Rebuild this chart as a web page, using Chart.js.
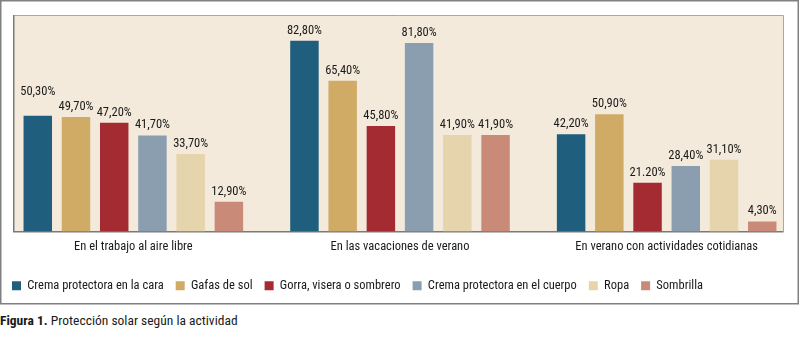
<!DOCTYPE html>
<html>
<head>
<meta charset="utf-8">
<script src="https://cdn.jsdelivr.net/npm/chart.js@4"></script>
<style>
  body { margin: 0; background: #fff; }
  #wrap { position: relative; width: 800px; height: 339px; }
  #chart { position: absolute; left: 0; top: 0; }
  #caption {
    position: absolute; left: 0; top: 312px;
    font-family: "Roboto Condensed", sans-serif;
    font-size: 13.5px; color: #1a1a1a;
  }
  #caption b { font-weight: bold; }
</style>
</head>
<body>
<div id="wrap">
  <canvas id="chart" width="800" height="305"></canvas>
  <div id="caption"><b>Figura 1.</b> Protección solar según la actividad</div>
</div>
<script>
const FONT = '"Roboto Condensed", sans-serif';

const categories = ['En el trabajo al aire libre', 'En las vacaciones de verano', 'En verano con actividades cotidianas'];
const seriesNames = ['Crema protectora en la cara', 'Gafas de sol', 'Gorra, visera o sombrero', 'Crema protectora en el cuerpo', 'Ropa', 'Sombrilla'];
const cremaCara = [50.3, 82.8, 42.2];
const gafas = [49.7, 65.4, 50.9];
const gorra = [47.2, 45.8, 21.2];
const cremaCuerpo = [41.7, 81.8, 28.4];
const ropa = [33.7, 41.9, 31.1];
const sombrilla = [12.9, 41.9, 4.3];
const colors = ['#1f5f7d', '#cfab66', '#a52b33', '#8a9eb0', '#e6d4ac', '#c98b78'];

const values = [cremaCara, gafas, gorra, cremaCuerpo, ropa, sombrilla];

// the original has one label written with a point
function labelFor(s, i) {
  if (s === 2 && i === 2) return '21.20%';
  return values[s][i].toFixed(2).replace('.', ',') + '%';
}

const frame = {
  id: 'frame',
  beforeDraw(chart) {
    const ctx = chart.ctx;
    const a = chart.chartArea;
    ctx.save();
    ctx.fillStyle = '#fff';
    ctx.fillRect(0, 0, chart.width, chart.height);
    ctx.strokeStyle = '#808080';
    ctx.lineWidth = 1.5;
    ctx.strokeRect(0.75, 0.75, 797.5, 303);
    ctx.fillStyle = '#f4eadb';
    ctx.fillRect(13, a.top, 770, a.bottom - a.top);
    ctx.lineWidth = 1;
    ctx.strokeStyle = '#a8a8a8';
    ctx.beginPath();
    ctx.moveTo(13.5, a.top + 0.5); ctx.lineTo(783.5, a.top + 0.5); ctx.lineTo(783.5, a.bottom);
    ctx.stroke();
    ctx.lineWidth = 1.5;
    ctx.strokeStyle = '#7a7a7a';
    ctx.beginPath();
    ctx.moveTo(13.75, a.top); ctx.lineTo(13.75, a.bottom + 0.25); ctx.lineTo(783.5, a.bottom + 0.25);
    ctx.stroke();
    ctx.restore();
  }
};

const valueLabels = {
  id: 'valueLabels',
  afterDatasetsDraw(chart) {
    const ctx = chart.ctx;
    ctx.save();
    ctx.font = '12.5px ' + FONT;
    ctx.fillStyle = '#1a1a1a';
    ctx.textAlign = 'center';
    ctx.textBaseline = 'bottom';
    chart.data.datasets.forEach((ds, s) => {
      chart.getDatasetMeta(s).data.forEach((bar, i) => {
        const lift = (s === 0 && i === 0) ? 18 : 4;
        ctx.fillText(labelFor(s, i), bar.x, bar.y - lift);
      });
    });
    ctx.restore();
  }
};

new Chart(document.getElementById('chart'), {
  type: 'bar',
  data: {
    labels: categories,
    datasets: seriesNames.map((name, s) => ({
      label: name,
      data: values[s],
      backgroundColor: colors[s],
      borderWidth: 0,
      barPercentage: 0.745,
      categoryPercentage: 0.86
    }))
  },
  options: {
    responsive: false,
    animation: false,
    layout: { padding: { top: 15, left: 0, right: 0, bottom: 3 } },
    scales: {
      x: {
        grid: { display: false },
        border: { display: false },
        ticks: { color: '#1a1a1a', font: { family: FONT, size: 12.5 }, padding: 0 },
        afterFit(scale) { scale.height += 13; }
      },
      y: { display: false, min: 0, max: 94 }
    },
    plugins: {
      legend: {
        position: 'bottom',
        align: 'start',
        labels: {
          boxWidth: 9, boxHeight: 9, padding: 12,
          color: '#1a1a1a', font: { family: FONT, size: 12.5 }
        }
      },
      tooltip: { enabled: false }
    }
  },
  plugins: [frame, valueLabels]
});
</script>
</body>
</html>
